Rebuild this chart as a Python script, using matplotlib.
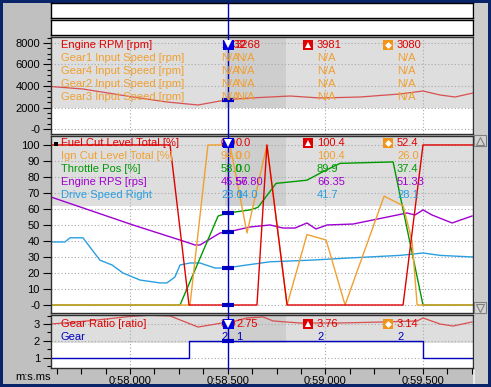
import numpy as np
import matplotlib
matplotlib.use("Agg")
import matplotlib.pyplot as plt
from matplotlib.patches import Rectangle
from matplotlib.ticker import FixedLocator, MultipleLocator

plt.rcParams['font.family'] = ['Liberation Sans', 'DejaVu Sans']
plt.rcParams['font.size'] = 8

# ---------------- data ----------------
# x axis (seconds)
x_ticks = [58.0, 58.5, 59.0, 59.5]
x_labels = ["0:58.000", "0:58.500", "0:59.000", "0:59.500"]
cursor_t = 58.5

# Panel 1 : engine speeds
p1_names = ["Engine RPM [rpm]", "Gear1 Input Speed [rpm]", "Gear4 Input Speed [rpm]",
            "Gear2 Input Speed [rpm]", "Gear3 Input Speed [rpm]"]
p1_cur_a = ["2732", "N/A", "N/A", "N/A", "N/A"]
p1_cur_b = ["3268", "N/A", "N/A", "N/A", "N/A"]
p1_min = ["3981", "N/A", "N/A", "N/A", "N/A"]
p1_max = ["3080", "N/A", "N/A", "N/A", "N/A"]
p1_yticks = [0, 2000, 4000, 6000, 8000]
p1_ylabels = ["-0", "2000", "4000", "6000", "8000"]
rpm_t = [57.595, 57.759, 58.015, 58.189, 58.348, 58.500, 58.614, 58.717, 58.819,
         58.973, 59.178, 59.382, 59.500, 59.587, 59.664, 59.756]
rpm_v = [3950, 3721, 2977, 2512, 2233, 2732, 2884, 2977, 3070,
         2884, 2977, 3256, 3535, 3163, 2977, 3349]

# Panel 2 : percentages
p2_names = ["Fuel Cut Level Total [%]", "Ign Cut Level Total [%]", "Throttle Pos [%]",
            "Engine RPS [rps]", "Drive Speed Right"]
p2_cur_a = ["0.0", "94.0", "58.0", "45.56", "23.0"]
p2_cur_b = ["0.0", "0.0", "0.0", "57.80", "14.0"]
p2_min = ["100.4", "100.4", "89.9", "66.35", "41.7"]
p2_max = ["52.4", "26.0", "37.4", "51.33", "28.1"]
p2_yticks = [0, 10, 20, 30, 40, 50, 60, 70, 80, 90, 100]
p2_ylabels = ["-0", "10", "20", "30", "40", "50", "60", "70", "80", "90", "100"]
fuel_t = [57.595, 58.205, 58.302, 58.650, 58.701, 58.804, 59.398, 59.500, 59.756]
fuel_v = [100, 100, 0, 0, 100, 0, 0, 100, 100]
ign_t = [57.595, 58.307, 58.399, 58.512, 58.599, 58.701, 58.804, 58.906, 59.004,
         59.101, 59.301, 59.398, 59.444, 59.470, 59.756]
ign_v = [0, 0, 100, 100, 45, 100, 0, 44, 40.6, 0, 68, 62, 40, 0, 0]
thr_t = [57.595, 58.256, 58.451, 58.500, 58.614, 58.655, 58.748, 58.906, 58.983,
         59.075, 59.347, 59.500, 59.756]
thr_v = [0, 0, 55.6, 57.5, 59.4, 61, 76, 78, 83, 88.5, 89.4, 0, 0]
rps_t = [57.595, 58.015, 58.256, 58.333, 58.358, 58.461, 58.500, 58.614, 58.717,
         58.783, 58.845, 58.906, 58.952, 59.009, 59.142, 59.295, 59.418, 59.459,
         59.500, 59.546, 59.649, 59.751]
rps_v = [67.5, 50, 40.6, 37.5, 37.5, 45, 45.6, 48.75, 50, 48.1, 48.1, 51.25, 47.5,
         50, 50.6, 54.4, 57.5, 56.25, 59.4, 56.25, 51.25, 55.6]
drv_t = [57.601, 57.667, 57.693, 57.759, 57.846, 57.908, 57.964, 58.051, 58.154,
         58.189, 58.230, 58.256, 58.307, 58.358, 58.435, 58.500, 58.563, 58.717,
         58.922, 59.126, 59.382, 59.500, 59.587, 59.756]
drv_v = [39.4, 39.4, 42, 42, 28, 25, 20, 15.6, 13.8, 13.8, 17.5, 25, 26.25, 26.25,
         23.1, 23.1, 24.4, 27, 28, 29.4, 31, 32.5, 31, 30]

# Panel 3 : gear
p3_names = ["Gear Ratio [ratio]", "Gear"]
p3_cur_a = ["3.0", "2"]
p3_cur_b = ["2.75", "1"]
p3_min = ["3.76", "2"]
p3_max = ["3.14", "2"]
p3_yticks = [1, 2, 3]
p3_ylabels = ["1", "2", "3"]
ratio_t = [57.595, 57.800, 58.000, 58.100, 58.205, 58.348, 58.471, 58.500, 58.599,
           58.681, 58.733, 58.870, 59.075, 59.295, 59.470, 59.500, 59.587, 59.654, 59.751]
ratio_v = [3.0, 3.2, 3.45, 3.52, 3.48, 2.82, 3.06, 3.05, 3.36, 3.42, 3.18, 3.06,
           3.06, 3.12, 3.18, 3.36, 3.0, 2.88, 3.12]
gear_t = [57.595, 58.300, 59.500, 59.756]
gear_v = [1, 2, 1, 1]

# ---------------- style ----------------
RED, ORANGE, GREEN, PURPLE, CYAN, NAVY = '#e00000', '#f0a030', '#009a00', '#a000d0', '#2a9fe0', '#0000c0'
TRACE_RED = '#d85050'
BORDER = '#0a246a'
W, H = 491, 387
X0, X1 = 51, 473
T0, T1 = 57.5955, 59.756

fig = plt.figure(figsize=(W / 100, H / 100), dpi=100)
fig.patch.set_facecolor(BORDER)


def axrect(x0, y0, x1, y1):
    return [x0 / W, 1 - y1 / H, (x1 - x0) / W, (y1 - y0) / H]


def tpx(t):
    return X0 + (t - T0) / (T1 - T0) * (X1 - X0)


bg = fig.add_axes([0, 0, 1, 1])
bg.set_axis_off()
bg.set_xlim(0, W)
bg.set_ylim(H, 0)
bg.add_patch(Rectangle((3, 3), 485, 381, color='#c0c0c0', lw=0))
bg.add_patch(Rectangle((473, 3), 15, 381, color='#cccccc', lw=0))
bg.add_patch(Rectangle((473, 3), 2, 381, color='#e8e8e8', lw=0))

# top boxes
for (y0, y1) in [(3, 18), (20, 35)]:
    b = fig.add_axes(axrect(X0, y0, X1, y1))
    b.set_xticks([]); b.set_yticks([])
    b.set_facecolor('white')
    for s in b.spines.values():
        s.set_color('black'); s.set_linewidth(1)

DB0, DB1 = 58.486, 58.799   # darker cursor-value band


def make_panel(y0, y1, ylim, yticks, ylabels, minor, band_lo):
    ax = fig.add_axes(axrect(X0, y0, X1, y1))
    ax.set_xlim(T0, T1)
    ax.set_ylim(*ylim)
    ax.set_facecolor('white')
    ax.axhspan(band_lo, ylim[1], color='#dedede', lw=0, zorder=0)
    ax.add_patch(Rectangle((DB0, band_lo), DB1 - DB0, ylim[1] - band_lo,
                           color='#cecece', lw=0, zorder=0.1))
    for t in x_ticks:
        ax.axvline(t, color='#a8a8a8', lw=0.8, ls=(0, (1, 2)), zorder=0.5)
    for v in yticks:
        ax.axhline(v, color='#a8a8a8', lw=0.8, ls=(0, (1, 2)), zorder=0.5)
    ax.yaxis.set_major_locator(FixedLocator(yticks))
    ax.set_yticklabels(ylabels)
    if minor:
        ax.yaxis.set_minor_locator(MultipleLocator(minor))
    ax.tick_params(axis='y', which='major', length=6, width=0.8, pad=2, labelsize=8)
    ax.tick_params(axis='y', which='minor', length=3, width=0.8)
    ax.tick_params(axis='x', which='both', bottom=False, labelbottom=False)
    for s in ax.spines.values():
        s.set_color('#303030'); s.set_linewidth(1)
    return ax


ax1 = make_panel(37, 134, (-465, 8558), p1_yticks, p1_ylabels, 500, 2000)
ax2 = make_panel(136, 313, (-5.0, 105.6), p2_yticks, p2_ylabels, None, 61.9)
ax3 = make_panel(315, 368, (0.381, 3.536), p3_yticks, p3_ylabels, 0.5, 1.869)

ax1.plot(rpm_t, rpm_v, color=TRACE_RED, lw=0.9, zorder=2)

ax2.plot(drv_t, drv_v, color=CYAN, lw=1, zorder=2)
ax2.plot(rps_t, rps_v, color=PURPLE, lw=1, zorder=2)
ax2.plot(thr_t, thr_v, color=GREEN, lw=1, zorder=2)
ax2.plot(ign_t, ign_v, color=ORANGE, lw=1, zorder=2)
ax2.plot(fuel_t, fuel_v, color=RED, lw=1, zorder=2)

ax3.plot(ratio_t, ratio_v, color=TRACE_RED, lw=0.9, zorder=2)
ax3.plot(gear_t, gear_v, color=NAVY, lw=1, drawstyle='steps-post', zorder=2)

ax3.set_xticks(x_ticks)
ax3.set_xticklabels(x_labels)
ax3.xaxis.set_minor_locator(MultipleLocator(0.125))
ax3.tick_params(axis='x', which='both', bottom=True, labelbottom=True, length=4,
                width=0.8, pad=2, labelsize=8)

# cursor dashes on each trace
dash = 6 / (X1 - X0) * (T1 - T0)
for ax, series in [(ax1, [(rpm_t, rpm_v)]),
                   (ax2, [(fuel_t, fuel_v), (ign_t, ign_v), (thr_t, thr_v),
                          (rps_t, rps_v), (drv_t, drv_v)]),
                   (ax3, [(ratio_t, ratio_v), (gear_t, gear_v)])]:
    for i, (tt, vv) in enumerate(series):
        if ax is ax3 and i == 1:
            v = gear_v[np.searchsorted(gear_t, cursor_t, side='right') - 1]
        else:
            v = np.interp(cursor_t, tt, vv)
        ax.plot([cursor_t - dash, cursor_t + dash], [v, v], color=NAVY, lw=3,
                solid_capstyle='butt', zorder=5)

# ---------------- overlay ----------------
ov = fig.add_axes([0, 0, 1, 1])
ov.set_axis_off()
ov.set_xlim(0, W)
ov.set_ylim(H, 0)
ov.patch.set_alpha(0)

cx = tpx(cursor_t)
ov.plot([cx, cx], [3, 369], color=NAVY, lw=1, zorder=3)


def txt(x, y, s, c, **kw):
    ov.text(x, y, s, color=c, fontsize=8, va='center', ha='left', zorder=4, **kw)


def block(rows_y, names, cols, cur_a, cur_b, mins, maxs):
    for i, y in enumerate(rows_y):
        txt(61, y, names[i], cols[i])
        txt(221, y, cur_a[i], cols[i])
        txt(236, y, cur_b[i], cols[i])
        txt(317, y, mins[i], cols[i])
        txt(397, y, maxs[i], cols[i])
    y = rows_y[0]
    ov.add_patch(Rectangle((303, y - 5), 10, 10, color=RED, lw=0, zorder=5))
    ov.plot(308, y + 0.3, marker='^', ms=5, color='white', mew=0, zorder=6)
    ov.add_patch(Rectangle((383, y - 5), 10, 10, color='#f29418', lw=0, zorder=5))
    ov.plot(388, y, marker='D', ms=3.5, color='white', mew=0, zorder=6)
    ov.add_patch(Rectangle((cx - 5, y - 5), 11, 10, color='#0000e0', lw=0, zorder=7))
    ov.plot(cx + 0.5, y - 0.5, marker='v', ms=5.5, color='white', mew=0, zorder=8)


block([44.5, 58, 71, 84, 97], p1_names, [RED, ORANGE, ORANGE, ORANGE, ORANGE],
      None, p1_cur_a, p1_cur_b, p1_min, p1_max) if False else None
block([44.5, 58, 71, 84, 97], p1_names, [RED, ORANGE, ORANGE, ORANGE, ORANGE],
      p1_cur_a, p1_cur_b, p1_min, p1_max)
block([143, 156, 169, 182, 195], p2_names, [RED, ORANGE, GREEN, PURPLE, CYAN],
      p2_cur_a, p2_cur_b, p2_min, p2_max)
block([324, 336.5], p3_names, [RED, NAVY], p3_cur_a, p3_cur_b, p3_min, p3_max)
ov.add_patch(Rectangle((54, 141.5), 4, 4, color='black', lw=0, zorder=5))

txt(15, 377.5, "m:s.ms", 'black')

# scrollbar buttons
for (y0, mk) in [(135, '^'), (302, 'v')]:
    ov.add_patch(Rectangle((474.5, y0), 12, 11, facecolor='#d4d4d4',
                           edgecolor='#808080', lw=0.8, zorder=5))
    ov.plot(480.5, y0 + 5.5, marker=mk, ms=6, mfc='none', mec='#808080', mew=0.8, zorder=6)

fig.savefig('out.png', dpi=100, facecolor=fig.get_facecolor())
